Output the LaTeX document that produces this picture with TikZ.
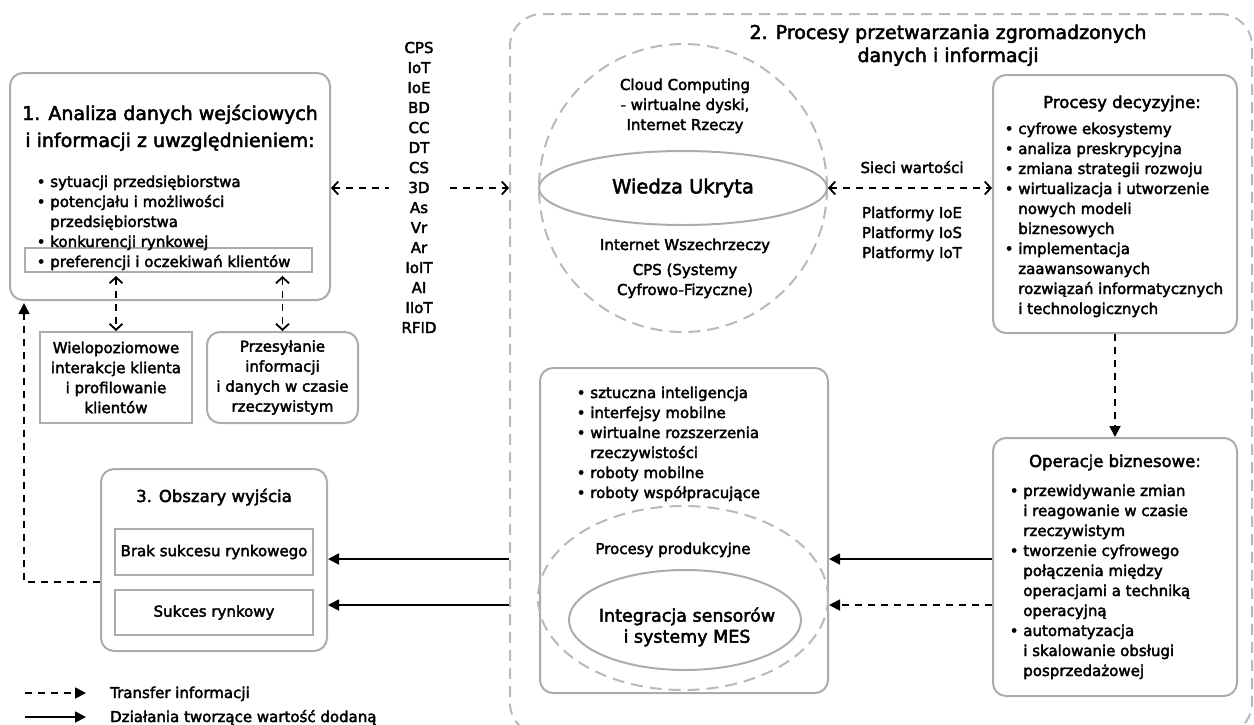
\documentclass[tikz,border=0pt]{standalone}
\usepackage{fontspec}
\setmainfont{DejaVu Sans}[FakeBold=2.5]
\usetikzlibrary{arrows.meta,shapes.geometric}

\definecolor{boxgray}{RGB}{172,172,172}
\definecolor{dashgray}{RGB}{185,185,185}

\newcommand\fbody{\fontsize{15}{20}\selectfont}
\newcommand\fhead{\fontsize{16.5}{21}\selectfont}
\newcommand\fbig{\fontsize{19}{27}\selectfont}

\tikzset{
  gbox/.style={draw=boxgray, line width=2pt, rounded corners=13pt, inner sep=0pt},
  grect/.style={draw=boxgray, line width=2pt, inner sep=0pt},
  gdash/.style={draw=dashgray, line width=2pt, dash pattern=on 11pt off 7pt, inner sep=0pt},
  txt/.style={inner sep=0pt, font=\fbody, align=left},
  info/.style={line width=1.8pt, dash pattern=on 7pt off 6pt},
  openboth/.style={arrows={Straight Barb[length=6pt,width=13pt,line width=1.8pt]-Straight Barb[length=6pt,width=13pt,line width=1.8pt]}},
  infoarrow/.style={info, -{Triangle[length=11pt,width=11pt]}},
  valarrow/.style={line width=1.8pt, -{Triangle[length=11pt,width=11pt]}},
}

\begin{document}
\begin{tikzpicture}[x=1pt,y=-1pt]
\useasboundingbox (0,0) rectangle (1254,724);

% ---- processing area ----
\node[gdash, rounded corners=32pt, minimum width=742pt, minimum height=721pt] (region) at (881,374.5) {};
\node[font=\fontsize{19}{23}\selectfont, align=center, anchor=base, inner sep=0pt] (rtitle) at (948,62)
  {2. Procesy przetwarzania zgromadzonych\\danych i informacji};

% ---- input analysis ----
\node[gbox, minimum width=320pt, minimum height=227pt] (box1) at (170,186.5) {};
\node[font=\fbig, align=center, anchor=base, inner sep=0pt] (t1) at (170,147)
  {1. Analiza danych wejściowych\\i informacji z uwzględnieniem:};
\node[grect, minimum width=287pt, minimum height=24pt] (prefrect) at (168.5,260) {};
\node[txt, anchor=base west] (l1) at (36.5,267)
  {• sytuacji przedsiębiorstwa\\• potencjału i możliwości\\\hphantom{• }przedsiębiorstwa\\• konkurencji rynkowej\\• preferencji i oczekiwań klientów};

\node[grect, minimum width=152pt, minimum height=91pt, font=\fbody, align=center] (wielo) at (116,377.5)
  {Wielopoziomowe\\interakcje klienta\\i profilowanie\\klientów};
\node[gbox, minimum width=151pt, minimum height=91pt, font=\fbody, align=center] (przes) at (282.5,377.5)
  {Przesyłanie\\informacji\\i danych w czasie\\rzeczywistym};

\draw[info, openboth, shorten <=3pt] (prefrect.south -| wielo.north) -- (wielo.north);
\draw[info, openboth, shorten <=3pt] (prefrect.south -| przes.north) -- (przes.north);

% ---- output areas ----
\node[gbox, minimum width=226pt, minimum height=182pt] (box3) at (214,560) {};
\node[font=\fhead, anchor=base, inner sep=0pt] (t3) at (214,502) {3. Obszary wyjścia};
\node[grect, minimum width=198pt, minimum height=46pt, font=\fbody] (brak) at (214,552) {Brak sukcesu rynkowego};
\node[grect, minimum width=198pt, minimum height=45pt, font=\fbody] (sukces) at (214,612.5) {Sukces rynkowy};

% ---- knowledge cloud ----
\node[circle, gdash, dash pattern=on 12pt off 7pt, minimum size=288pt] (cloud) at (683,188) {};
\node[ellipse, draw=boxgray, line width=2pt, minimum width=288pt, minimum height=74pt, inner sep=0pt,
      font=\fontsize{19.5}{24}\selectfont] (wiedza) at (683,188) {Wiedza Ukryta};
\node[txt, align=center, anchor=base] (cc) at (685,130)
  {Cloud Computing\\- wirtualne dyski,\\Internet Rzeczy};
\node[txt, align=center, anchor=base] (iw) at (685,250) {Internet Wszechrzeczy};
\node[txt, align=center, anchor=base] (cps) at (685,295) {CPS (Systemy\\Cyfrowo-Fizyczne)};

% ---- decisions ----
\node[gbox, minimum width=244pt, minimum height=258pt] (decyz) at (1115,204) {};
\node[font=\fhead, anchor=base, inner sep=0pt] (td) at (1122,108) {Procesy decyzyjne:};
\node[txt, anchor=base west] (ld) at (1004.5,314)
  {• cyfrowe ekosystemy\\• analiza preskrypcyjna\\• zmiana strategii rozwoju\\• wirtualizacja i utworzenie\\\hphantom{• }nowych modeli\\\hphantom{• }biznesowych\\• implementacja\\\hphantom{• }zaawansowanych\\\hphantom{• }rozwiązań informatycznych\\\hphantom{• }i technologicznych};

\node[txt, align=center, anchor=base] (sieci) at (912,173) {Sieci wartości};
\node[txt, align=center, anchor=base] (plat) at (912,258) {Platformy IoE\\Platformy IoS\\Platformy IoT};

% ---- business operations ----
\node[gbox, minimum width=244pt, minimum height=258pt] (oper) at (1115,567) {};
\node[font=\fhead, anchor=base, inner sep=0pt] (to) at (1115,467) {Operacje biznesowe:};
\node[txt, anchor=base west] (lo) at (1009.5,676)
  {• przewidywanie zmian\\\hphantom{• }i reagowanie w czasie\\\hphantom{• }rzeczywistym\\• tworzenie cyfrowego\\\hphantom{• }połączenia między\\\hphantom{• }operacjami a techniką\\\hphantom{• }operacyjną\\• automatyzacja\\\hphantom{• }i skalowanie obsługi\\\hphantom{• }posprzedażowej};

% ---- production ----
\node[gbox, minimum width=288pt, minimum height=325pt] (prod) at (684,530.5) {};
\node[txt, anchor=base west] (lp) at (576.5,498)
  {• sztuczna inteligencja\\• interfejsy mobilne\\• wirtualne rozszerzenia\\\hphantom{• }rzeczywistości\\• roboty mobilne\\• roboty współpracujące};
\node[ellipse, gdash, dash pattern=on 12pt off 7pt, minimum width=290pt, minimum height=184pt] (prodell) at (683,598) {};
\node[font=\fbody, anchor=base, inner sep=0pt] (tp) at (673,554) {Procesy produkcyjne};
\node[ellipse, draw=boxgray, line width=2pt, minimum width=232pt, minimum height=100pt, inner sep=0pt] (integ) at (685,620) {};
\node[font=\fontsize{17.5}{21}\selectfont, align=center, inner sep=0pt] (integtxt) at (687,627) {Integracja sensorów\\i systemy MES};

% ---- connectors ----
\draw[info, openboth] (box1.east |- wiedza) -- (region.west |- wiedza);
\draw[info, openboth] (wiedza.east) -- (wiedza.east -| decyz.west);
\draw[infoarrow] (decyz.south) -- (oper.north);

\coordinate (r1) at (0,559);
\coordinate (r2) at (0,605);
\draw[valarrow] (oper.west |- r1) -- (prod.east |- r1);
\draw[infoarrow] (oper.west |- r2) -- (prod.east |- r2);
\draw[valarrow] (region.west |- r1) -- (box3.east |- r1);
\draw[valarrow] (region.west |- r2) -- (box3.east |- r2);

\coordinate (fbrow) at (0,582);
\coordinate (fbx) at ([xshift=15pt]box1.south west);
\draw[infoarrow, shorten >=2pt] (box3.west |- fbrow) -| (fbx);

% technology list, laid over the information link
\node[txt, align=center, anchor=base, fill=white, minimum width=60pt] (tech) at (419,333)
  {CPS\\IoT\\IoE\\BD\\CC\\DT\\CS\\3D\\As\\Vr\\Ar\\IoIT\\AI\\IIoT\\RFID};

% ---- legend ----
\coordinate (lg1a) at (25,693);
\coordinate (lg1b) at (86,693);
\coordinate (lg2a) at (25,717);
\coordinate (lg2b) at (86,717);
\draw[infoarrow] (lg1a) -- (lg1b);
\draw[valarrow] (lg2a) -- (lg2b);
\node[txt, anchor=base west] (lgt1) at (110,698) {Transfer informacji};
\node[txt, anchor=base west] (lgt2) at (110,722) {Działania tworzące wartość dodaną};
\end{tikzpicture}
\end{document}
